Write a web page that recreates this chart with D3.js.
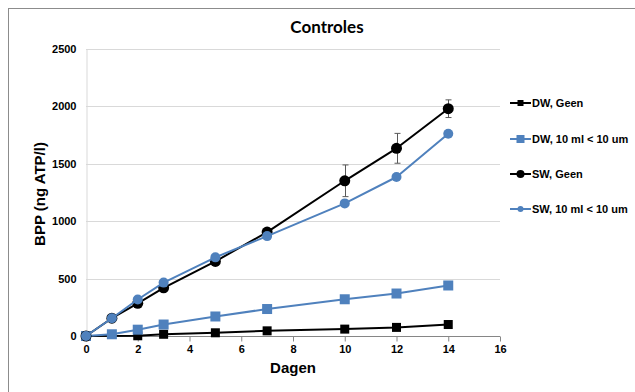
<!DOCTYPE html>
<html>
<head>
<meta charset="utf-8">
<script src="https://cdn.jsdelivr.net/npm/d3@7/dist/d3.min.js"></script>
<style>
  html, body { margin: 0; padding: 0; background: #fff; }
  svg { display: block; }
</style>
</head>
<body>
<svg id="chart" width="635" height="392"></svg>
<script>
// Days of measurement
const days = [0, 1, 2, 3, 5, 7, 10, 12, 14];

// BPP (ng ATP/l) per series (null = not measured)
const dwGeen   = [0, null, 2, 15, 28, 45, 60, 75, 100];
const dw10ml   = [0, 15, 55, 100, 170, 235, 320, 370, 440];
const swGeen   = [0, 155, 285, 420, 650, 905, 1352, 1635, 1980];
const sw10ml   = [0, 155, 318, 465, 685, 870, 1155, 1385, 1762];

// Standard deviation shown for SW, Geen
const swGeenErr = [0, 0, 0, 0, 0, 0, 138, 130, 77];

const seriesNames = ["DW, Geen", "DW, 10 ml < 10 um", "SW, Geen", "SW, 10 ml < 10 um"];
const xTicks = [0, 2, 4, 6, 8, 10, 12, 14, 16];
const yTicks = [0, 500, 1000, 1500, 2000, 2500];

const BLUE = "#4f81bd";
const series = [
  { name: seriesNames[0], values: dwGeen, color: "#000", shape: "square", size: 9, legSize: 6 },
  { name: seriesNames[1], values: dw10ml, color: BLUE, shape: "square", size: 10, legSize: 8 },
  { name: seriesNames[2], values: swGeen, color: "#000", shape: "circle", size: 11, legSize: 8, err: swGeenErr },
  { name: seriesNames[3], values: sw10ml, color: BLUE, shape: "circle", size: 10, legSize: 6 }
];

const svg = d3.select("#chart");
const FONT = "'Liberation Sans', Arial, sans-serif";

// outer frame
svg.append("rect")
  .attr("x", 8.5).attr("y", 8.5).attr("width", 640).attr("height", 400)
  .attr("fill", "#fff").attr("stroke", "#8c8c8c").attr("stroke-width", 1);

const plot = { left: 86, right: 500, top: 49, bottom: 336 };

const x = d3.scaleLinear().domain([0, 16]).range([plot.left, plot.right]);
const y = d3.scaleLinear().domain([0, 2500]).range([plot.bottom, plot.top]);

// horizontal gridlines
svg.append("g")
  .selectAll("line")
  .data(yTicks.filter(d => d > 0))
  .join("line")
  .attr("x1", plot.left).attr("x2", plot.right)
  .attr("y1", d => Math.round(y(d)) + 0.5).attr("y2", d => Math.round(y(d)) + 0.5)
  .attr("stroke", "#d9d9d9").attr("stroke-width", 1);

// y axis
const yAxis = svg.append("g")
  .attr("transform", `translate(${plot.left + 0.5},0)`)
  .call(d3.axisLeft(y).tickValues(yTicks).tickSize(0).tickPadding(10).tickFormat(d3.format("d")));
yAxis.select(".domain").attr("stroke", "#d9d9d9");
yAxis.selectAll("text")
  .attr("font-family", FONT).attr("font-size", 11).attr("font-weight", "bold").attr("fill", "#000");

// x axis
const xAxis = svg.append("g")
  .attr("transform", `translate(0,${plot.bottom + 0.5})`)
  .call(d3.axisBottom(x).tickValues(xTicks).tickSize(5).tickPadding(4).tickFormat(d3.format("d")));
xAxis.select(".domain").attr("stroke", "#868686").attr("d", `M${plot.left},0H${plot.right}`);
xAxis.selectAll(".tick line").attr("stroke", "#868686");
xAxis.selectAll("text")
  .attr("font-family", FONT).attr("font-size", 11).attr("font-weight", "bold").attr("fill", "#000");

// title
svg.append("text")
  .attr("x", 327).attr("y", 33)
  .attr("text-anchor", "middle")
  .attr("font-family", "Lato, 'Open Sans', sans-serif")
  .attr("font-size", 17).attr("font-weight", "bold")
  .text("Controles");

// axis titles
svg.append("text")
  .attr("x", 293).attr("y", 373)
  .attr("text-anchor", "middle")
  .attr("font-family", FONT).attr("font-size", 15).attr("font-weight", "bold")
  .text("Dagen");

svg.append("text")
  .attr("transform", "translate(45,194) rotate(-90)")
  .attr("text-anchor", "middle")
  .attr("font-family", FONT).attr("font-size", 15).attr("font-weight", "bold")
  .text("BPP (ng ATP/l)");

function drawMarker(g, shape, cx, cy, size, color) {
  if (shape === "square") {
    g.append("rect")
      .attr("x", cx - size / 2).attr("y", cy - size / 2)
      .attr("width", size).attr("height", size)
      .attr("fill", color);
  } else {
    g.append("circle")
      .attr("cx", cx).attr("cy", cy).attr("r", size / 2)
      .attr("fill", color);
  }
}

const line = d3.line().x(d => x(d[0])).y(d => y(d[1]));

series.forEach(s => {
  const g = svg.append("g");
  const pts = days.map((d, i) => [d, s.values[i], i]).filter(p => p[1] != null);
  g.append("path")
    .attr("d", line(pts))
    .attr("fill", "none").attr("stroke", s.color).attr("stroke-width", 2)
    .attr("stroke-linejoin", "round");
  if (s.err) {
    pts.forEach(p => {
      const e = s.err[p[2]];
      if (!e) return;
      const cx = Math.round(x(p[0])) + 0.5;
      const eg = g.append("g").attr("stroke", "#595959").attr("stroke-width", 1);
      eg.append("line").attr("x1", cx).attr("x2", cx).attr("y1", y(p[1] + e)).attr("y2", y(p[1] - e));
      eg.append("line").attr("x1", cx - 3).attr("x2", cx + 3).attr("y1", y(p[1] + e)).attr("y2", y(p[1] + e));
      eg.append("line").attr("x1", cx - 3).attr("x2", cx + 3).attr("y1", y(p[1] - e)).attr("y2", y(p[1] - e));
    });
  }
  pts.forEach(p => drawMarker(g, s.shape, x(p[0]), y(p[1]), s.size, s.color));
});

// legend
const legendY = [103, 139, 174, 209];
series.forEach((s, i) => {
  const g = svg.append("g").attr("transform", `translate(0,${legendY[i]})`);
  g.append("line").attr("x1", 510).attr("x2", 531).attr("y1", 0).attr("y2", 0)
    .attr("stroke", s.color).attr("stroke-width", 2);
  drawMarker(g, s.shape, 520.5, 0, s.legSize, s.color);
  g.append("text")
    .attr("x", 532).attr("y", 4)
    .attr("font-family", FONT).attr("font-size", 11).attr("font-weight", "bold")
    .text(s.name);
});
</script>
</body>
</html>
